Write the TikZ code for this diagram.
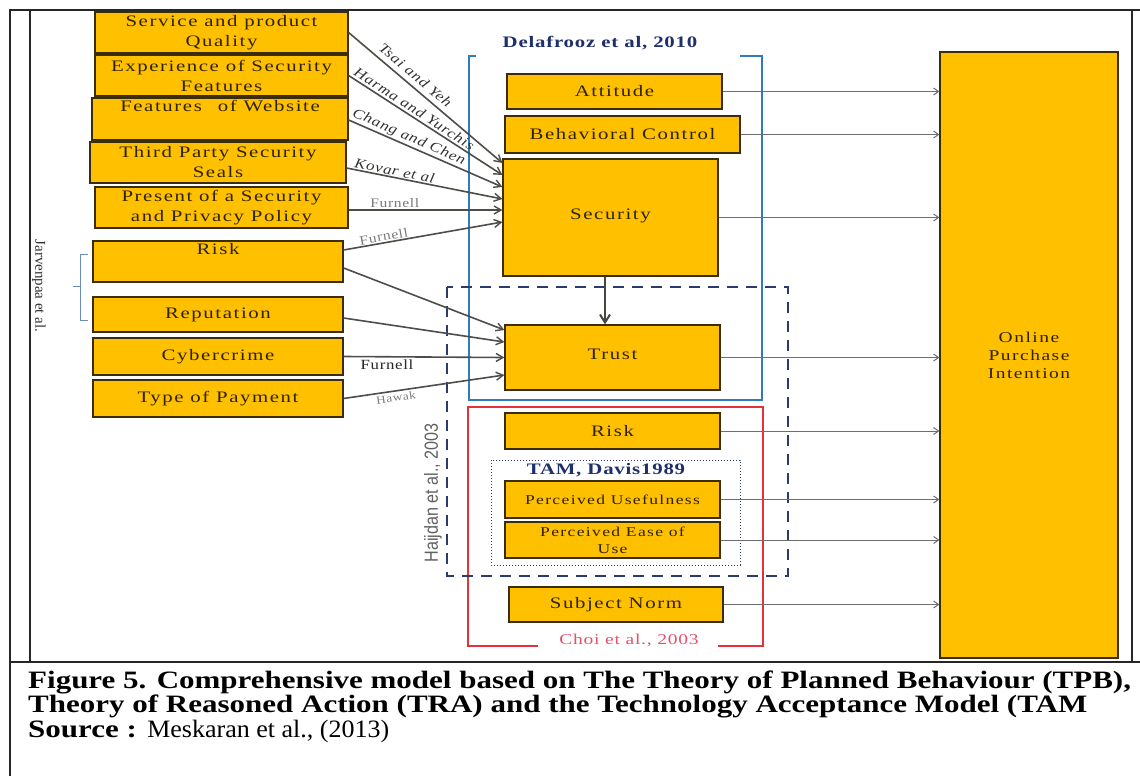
\documentclass[tikz,border=0pt]{standalone}
\usepackage{fontspec}
\setmainfont{Liberation Serif}
\newfontfamily\bxf[FakeStretch=1.3, LetterSpace=10]{Liberation Serif}
\newfontfamily\ttlf[FakeStretch=1.3, LetterSpace=5]{Liberation Serif}
\newfontfamily\lblf[FakeStretch=1.2, LetterSpace=5]{Liberation Serif}
\newfontfamily\capf[FakeStretch=1.24]{Liberation Serif}
\newfontfamily\capreg[FakeStretch=1.04]{Liberation Serif}
\newfontfamily\sideserif{Liberation Serif}
\newfontfamily\sidesans[FakeStretch=0.85]{Liberation Sans}
\usetikzlibrary{arrows.meta}

\definecolor{boxfill}{HTML}{FFC000}
\definecolor{boxline}{HTML}{3B2C0A}
\definecolor{boxtext}{HTML}{2F2200}
\definecolor{arrdark}{HTML}{4E4E48}
\definecolor{arrlight}{HTML}{6E6E6E}
\definecolor{lblgray}{HTML}{7A7A7A}
\definecolor{frameblue}{HTML}{2E7BBF}
\definecolor{framered}{HTML}{E5323A}
\definecolor{navy}{HTML}{2B3B6B}
\definecolor{titleblue}{HTML}{1F2F6B}
\definecolor{choired}{HTML}{E8506A}
\definecolor{bracket}{HTML}{6A8CB8}

\tikzset{
  box/.style={draw=boxline, line width=1.2pt, fill=boxfill, inner sep=0pt,
    align=center, text=boxtext, font=\bxf\fontsize{16}{20}\selectfont},
  smallbox/.style={box, font=\bxf\fontsize{13.5}{17}\selectfont},
  larr/.style={draw=arrdark, line width=1.6pt,
    -{Straight Barb[length=7pt,width=8pt,line width=1.4pt]}},
  rarr/.style={draw=arrlight, line width=1pt,
    -{Straight Barb[length=5pt,width=7pt,line width=1pt]}},
  downarr/.style={draw=arrdark!90!black, line width=2.4pt,
    -{Straight Barb[length=8pt,width=10pt,line width=2pt]}},
  lbl/.style={sloped, inner sep=1pt, text=black!80,
    font=\lblf\itshape\fontsize{14}{16}\selectfont},
  glbl/.style={sloped, inner sep=1pt, text=lblgray,
    font=\lblf\fontsize{13}{15}\selectfont},
  frame/.style={draw=black!85, line width=1.6pt},
  grouptitle/.style={font=\ttlf\bfseries\fontsize{16}{18}\selectfont, inner sep=0pt}
}

\begin{document}
\begin{tikzpicture}[x=1pt,y=-1pt]
\useasboundingbox[fill=white] (0,0) rectangle (1140,776);

% page frame and caption rule
\draw[frame] (10,776) -- (10,10) -- (1140,10);
\draw[frame] (30,10) -- (30,662);
\draw[frame] (1132,10) -- (1132,662);
\draw[frame, line width=2pt] (10,662) -- (1140,662);

% group frames
\draw[frameblue, line width=1.3pt] (476,56) -- (469,56) -- (469,400) -- (762,400) -- (762,56) -- (740,56);
\draw[framered, line width=1.5pt] (538,646) -- (468,646) -- (468,407) -- (763,407) -- (763,646) -- (718,646);
\draw[navy, line width=2pt, dash pattern=on 11pt off 8pt] (447,287) rectangle (788,576);
\draw[navy, line width=1pt, dotted] (491,460) rectangle (740,565);

% group titles
\node[grouptitle, text=titleblue] (tdel) at (600,43) {Delafrooz et al, 2010};
\node[grouptitle, text=titleblue] (ttam) at (606,470) {TAM, Davis1989};
\node[grouptitle, text=choired, font=\ttlf\fontsize{15}{17}\selectfont] (tchoi) at (629,640) {Choi et al., 2003};

% antecedent boxes
\node[box, minimum width=253pt, minimum height=41pt] (svc) at (221.5,32.5) {Service and product\\Quality};
\node[box, minimum width=253pt, minimum height=41pt] (exp) at (221.5,75.5) {Experience of Security\\Features};
\node[box, minimum width=256pt, minimum height=42pt] (web) at (220,119) {Features\quad of Website\\\strut};
\node[box, minimum width=256pt, minimum height=41pt] (tps) at (218,162.5) {Third Party Security\\Seals};
\node[box, minimum width=253pt, minimum height=41pt] (pol) at (221.5,207.5) {Present of a Security\\and Privacy Policy};
\node[box, minimum width=250pt, minimum height=41pt] (rsk) at (218,261.5) {Risk\\\strut};
\node[box, minimum width=250pt, minimum height=35pt] (rep) at (218,314.5) {Reputation};
\node[box, minimum width=250pt, minimum height=37pt] (cyb) at (218,356.5) {Cybercrime};
\node[box, minimum width=250pt, minimum height=37pt] (pay) at (218,398.5) {Type of Payment};

% model boxes
\node[box, minimum width=215pt, minimum height=35pt] (att) at (614.5,91.5) {Attitude};
\node[box, minimum width=235pt, minimum height=37pt] (bc) at (622.5,134.5) {Behavioral Control};
\node[box, minimum width=215pt, minimum height=117pt] (sec) at (610.5,217.5) {\raisebox{7pt}{Security}};
\node[box, minimum width=215pt, minimum height=65pt] (tru) at (612.5,357.5) {\raisebox{7pt}{Trust}};
\node[box, minimum width=215pt, minimum height=36pt] (rsk2) at (612.5,431) {Risk};
\node[smallbox, minimum width=215pt, minimum height=37pt] (pu) at (612.5,499.5) {Perceived Usefulness};
\node[smallbox, minimum width=215pt, minimum height=36pt] (peu) at (612.5,540) {Perceived Ease of\\Use};
\node[box, minimum width=214pt, minimum height=35pt] (sn) at (616,604.5) {Subject Norm};
\node[box, minimum width=178pt, minimum height=606pt, font=\bxf\fontsize{15}{18}\selectfont] (onl) at (1029,355) {Online\\Purchase\\Intention};

% side labels
\node[rotate=-90, font=\sideserif\fontsize{15}{17}\selectfont, text=black!80, inner sep=0pt] (jarv) at (39,286) {Jarvenpaa et al.};
\node[rotate=90, font=\sidesans\fontsize{19}{21}\selectfont, text=black!62, inner sep=0pt] (heij) at (433,493) {Haijdan et al., 2003};
\coordinate (brt) at (88,254);
\coordinate (brb) at (88,320);
\draw[bracket, line width=0.9pt] (brt) -- (80,254) -- (80,320) -- (brb);
\draw[bracket, line width=0.9pt] (80,286) -- (73,286);

% antecedents into Security
\draw[larr] (svc.east) -- node[lbl, pos=0.39, above=4pt] {Tsai and Yeh} ([yshift=54.5pt]sec.west);
\draw[larr] (exp.east) -- node[lbl, pos=0.4, above=1pt] {Harma and Yurchis} ([yshift=42.5pt]sec.west);
\draw[larr] ([yshift=-1pt]web.east) -- node[lbl, pos=0.37, above=0pt] {Chang and Chen} ([yshift=30.5pt]sec.west);
\draw[larr] ([yshift=-5.5pt]tps.east) -- node[lbl, pos=0.3, above=0pt] {Kovar et al} ([yshift=18.5pt]sec.west);
\draw[larr] ([yshift=-2.5pt]pol.east) -- node[glbl, pos=0.3, above=1pt] {Furnell} ([yshift=7.5pt]sec.west);
\draw[larr] ([yshift=11.5pt]rsk.east) -- node[glbl, pos=0.26, above=0pt] {Furnell} ([yshift=-4.5pt]sec.west);

% antecedents into Trust
\draw[larr] ([yshift=-6.5pt]rsk.east) -- ([yshift=27.5pt]tru.west);
\draw[larr] ([yshift=-3.5pt]rep.east) -- ([yshift=15.5pt]tru.west);
\draw[larr] (cyb.east) -- node[pos=0.27, below=1pt, inner sep=1pt, text=black!85, font=\lblf\fontsize{14}{16}\selectfont] {Furnell} (tru.west);
\draw[larr] (pay.east) -- node[glbl, pos=0.32, below=1pt, font=\lblf\fontsize{11}{13}\selectfont] {Hawak} ([yshift=-17.5pt]tru.west);

% Security leads to Trust
\draw[downarr] (sec.south -| 605,0) -- (tru.north -| 605,0);

% model constructs into Online Purchase Intention
\foreach \n in {att,bc,sec,tru,rsk2,pu,peu,sn}{
  \draw[rarr] (\n.east) -- (\n.east -| onl.west);
}

% caption
\node[anchor=base west, inner sep=0pt, font=\capf\bfseries\fontsize{25}{25}\selectfont] (cap1) at (28,688)
  {Figure 5. Comprehensive model based on The Theory of Planned Behaviour (TPB),};
\node[anchor=base west, inner sep=0pt, font=\capf\bfseries\fontsize{25}{25}\selectfont] (cap2) at (28,712)
  {Theory of Reasoned Action (TRA) and the Technology Acceptance Model (TAM};
\node[anchor=base west, inner sep=0pt, font=\capf\bfseries\fontsize{25}{25}\selectfont] (cap3) at (28,737)
  {Source : {\capreg\mdseries Meskaran et al., (2013)}};
\end{tikzpicture}
\end{document}
